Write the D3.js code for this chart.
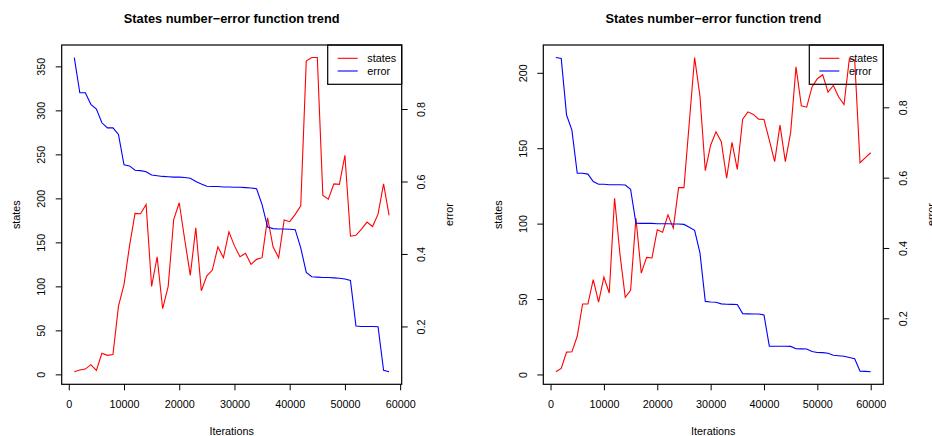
<!DOCTYPE html>
<html>
<head>
<meta charset="utf-8">
<script src="https://cdn.jsdelivr.net/npm/d3@7"></script>
<style>
  html, body { margin: 0; padding: 0; background: #fff; }
  svg text { font-family: "Liberation Sans", Arial, Helvetica, sans-serif; fill: #000; }
</style>
</head>
<body>
<script>

var w = 932;
var h = 436;

// ---- data ----
var iterLeft = [1000, 2000, 3000, 4000, 5000, 6000, 7000, 8000, 9000, 10000,
  11000, 12000, 13000, 14000, 15000, 16000, 17000, 18000, 19000, 20000,
  21000, 22000, 23000, 24000, 25000, 26000, 27000, 28000, 29000, 30000,
  31000, 32000, 33000, 34000, 35000, 36000, 37000, 38000, 39000, 40000,
  41000, 42000, 43000, 44000, 45000, 46000, 47000, 48000, 49000, 50000,
  51000, 52000, 53000, 54000, 55000, 56000, 57000, 58000];

var statesLeft = [3, 5, 6, 11, 4.5, 24, 21.6, 22.5, 77.6, 102,
  146, 183, 182.5, 193, 100, 133.5, 74.6, 100, 176, 195,
  153, 112.5, 166.5, 95, 112, 118.5, 145, 132.6, 162, 146,
  133.7, 137.5, 125, 130.7, 132.6, 178, 144.7, 132.6, 175.4, 173.5,
  181.8, 191.5, 356, 360, 360, 203.4, 199, 216.5, 216, 249,
  157, 158, 165, 173, 168, 182, 216.5, 180.7];

var errorLeft = [0.942, 0.845, 0.845, 0.813, 0.800, 0.762, 0.748, 0.748, 0.730, 0.646,
  0.643, 0.631, 0.630, 0.627, 0.618, 0.616, 0.614, 0.613, 0.612, 0.612,
  0.611, 0.609, 0.600, 0.593, 0.587, 0.586, 0.586, 0.585, 0.585, 0.584,
  0.584, 0.583, 0.582, 0.580, 0.536, 0.474, 0.470, 0.469, 0.469, 0.468,
  0.467, 0.417, 0.349, 0.337, 0.336, 0.335, 0.335, 0.334, 0.333, 0.331,
  0.327, 0.201, 0.200, 0.200, 0.200, 0.199, 0.079, 0.075];

var iterRight = [1000, 2000, 3000, 4000, 5000, 6000, 7000, 8000, 9000, 10000,
  11000, 12000, 13000, 14000, 15000, 16000, 17000, 18000, 19000, 20000,
  21000, 22000, 23000, 24000, 25000, 26000, 27000, 28000, 29000, 30000,
  31000, 32000, 33000, 34000, 35000, 36000, 37000, 38000, 39000, 40000,
  41000, 42000, 43000, 44000, 45000, 46000, 47000, 48000, 49000, 50000,
  51000, 52000, 53000, 54000, 55000, 56000, 57000, 58000, 59000, 60000];

var statesRight = [1.8, 4, 14.8, 15, 25.3, 46.7, 46.7, 62.8, 48, 64.6,
  54, 116.8, 80, 51.1, 55.8, 103.6, 67.2, 77.6, 77.2, 95.9,
  94.3, 105.8, 97, 123.9, 123.9, 167, 210.1, 184.5, 135.1, 152,
  160.9, 154.3, 130.1, 153.9, 136, 169.3, 174.1, 172.4, 169.3, 169,
  155.4, 141.1, 165.3, 141.1, 160.5, 203.9, 178.1, 177.2, 190.6, 196.1,
  198.7, 187.2, 191.6, 183.9, 178.9, 209.4, 208.3, 140.4, 143.7, 147];

var errorRight = [0.9415, 0.939, 0.778, 0.735, 0.6125, 0.6125, 0.610, 0.589, 0.581, 0.581,
  0.580, 0.580, 0.580, 0.579, 0.567, 0.4706, 0.470, 0.470, 0.470, 0.469,
  0.469, 0.469, 0.468, 0.468, 0.467, 0.459, 0.450, 0.386, 0.248, 0.2465,
  0.2454, 0.241, 0.240, 0.2395, 0.239, 0.2133, 0.2125, 0.212, 0.212, 0.2096,
  0.1206, 0.1205, 0.1204, 0.1203, 0.120, 0.1132, 0.113, 0.1126, 0.1055, 0.1027,
  0.1024, 0.1007, 0.095, 0.0935, 0.0922, 0.0885, 0.0848, 0.0497, 0.049, 0.048];

var xTicks = [0, 10000, 20000, 30000, 40000, 50000, 60000];
var statesTicksLeft = [0, 50, 100, 150, 200, 250, 300, 350];
var statesTicksRight = [0, 50, 100, 150, 200];
var errorTicks = [0.2, 0.4, 0.6, 0.8];

var title = "States number\u2212error function trend";
var legendNames = ["states", "error"];
var colors = ["#ff0000", "#0000ff"];

var svg = d3.select("body").append("svg")
  .attr("width", w)
  .attr("height", h);

// R style axis range: data extent plus 4% on each side
function padded(arr) {
  var e = d3.extent(arr);
  var p = (e[1] - e[0]) * 0.04;
  return [e[0] - p, e[1] + p];
}

function drawPanel(left, iters, states, errs, sTicks) {
  var x0 = left, x1 = left + 340, y0 = 45, y1 = 384.3;
  var fs = 10.8;

  var x = d3.scaleLinear().domain(padded(iters)).range([x0, x1]);
  var yS = d3.scaleLinear().domain(padded(states)).range([y1, y0]);
  var yE = d3.scaleLinear().domain(padded(errs)).range([y1, y0]);

  var g = svg.append("g");

  // title
  g.append("text")
    .attr("x", (x0 + x1) / 2)
    .attr("y", 23)
    .attr("text-anchor", "middle")
    .attr("font-size", "12.8px")
    .attr("font-weight", "bold")
    .text(title);

  // bottom axis
  var ax = g.append("g")
    .attr("transform", "translate(0," + y1 + ")")
    .call(d3.axisBottom(x).tickValues(xTicks).tickSize(6).tickFormat(d3.format("d")));
  ax.select(".domain").remove();
  ax.attr("font-size", fs).attr("font-family", null);
  ax.selectAll("text").attr("y", 24).attr("dy", 0);

  // left axis (states)
  var al = g.append("g")
    .attr("transform", "translate(" + x0 + ",0)")
    .call(d3.axisLeft(yS).tickValues(sTicks).tickSize(6));
  al.select(".domain").remove();
  al.attr("font-size", fs).attr("font-family", null);
  al.selectAll("text")
    .attr("transform", "rotate(-90)")
    .attr("x", 0)
    .attr("y", -20)
    .attr("dy", "0.35em")
    .attr("text-anchor", "middle");

  // right axis (error)
  var ar = g.append("g")
    .attr("transform", "translate(" + x1 + ",0)")
    .call(d3.axisRight(yE).tickValues(errorTicks).tickSize(6).tickFormat(d3.format(".1f")));
  ar.select(".domain").remove();
  ar.attr("font-size", fs).attr("font-family", null);
  ar.selectAll("text")
    .attr("transform", "rotate(-90)")
    .attr("x", 0)
    .attr("y", 20)
    .attr("dy", "0.35em")
    .attr("text-anchor", "middle");

  // axis titles
  g.append("text")
    .attr("x", (x0 + x1) / 2)
    .attr("y", 435)
    .attr("text-anchor", "middle")
    .attr("font-size", fs + "px")
    .text("Iterations");

  g.append("text")
    .attr("transform", "translate(" + (x0 - 41.7) + "," + ((y0 + y1) / 2) + ") rotate(-90)")
    .attr("text-anchor", "middle")
    .attr("font-size", fs + "px")
    .text("states");

  g.append("text")
    .attr("transform", "translate(" + (x1 + 51.6) + "," + ((y0 + y1) / 2) + ") rotate(-90)")
    .attr("text-anchor", "middle")
    .attr("font-size", fs + "px")
    .text("error");

  // lines
  var lineS = d3.line()
    .x(function(d, i){ return x(iters[i]); })
    .y(function(d){ return yS(d); });
  var lineE = d3.line()
    .x(function(d, i){ return x(iters[i]); })
    .y(function(d){ return yE(d); });

  g.append("path")
    .datum(states)
    .attr("d", lineS)
    .attr("fill", "none")
    .attr("stroke", colors[0])
    .attr("stroke-width", 1.1);

  g.append("path")
    .datum(errs)
    .attr("d", lineE)
    .attr("fill", "none")
    .attr("stroke", colors[1])
    .attr("stroke-width", 1.1);

  // plot box
  g.append("rect")
    .attr("x", x0)
    .attr("y", y0)
    .attr("width", x1 - x0)
    .attr("height", y1 - y0)
    .attr("fill", "none")
    .attr("stroke", "#000")
    .attr("stroke-width", 1.2);

  // legend (no fill, lines show through)
  var lg = g.append("g");
  lg.append("rect")
    .attr("x", x1 - 74)
    .attr("y", y0)
    .attr("width", 74)
    .attr("height", 39.3)
    .attr("fill", "none")
    .attr("stroke", "#000")
    .attr("stroke-width", 1.2);

  legendNames.forEach(function(name, i){
    var ly = 58.3 + i * 12.7;
    lg.append("line")
      .attr("x1", x1 - 64)
      .attr("x2", x1 - 44)
      .attr("y1", ly)
      .attr("y2", ly)
      .attr("stroke", colors[i])
      .attr("stroke-width", 1.1);
    lg.append("text")
      .attr("x", x1 - 34.4)
      .attr("y", ly)
      .attr("dy", "0.35em")
      .attr("font-size", fs + "px")
      .text(name);
  });
}

drawPanel(61.7, iterLeft, statesLeft, errorLeft, statesTicksLeft);
drawPanel(543.3, iterRight, statesRight, errorRight, statesTicksRight);

</script>
</body>
</html>
